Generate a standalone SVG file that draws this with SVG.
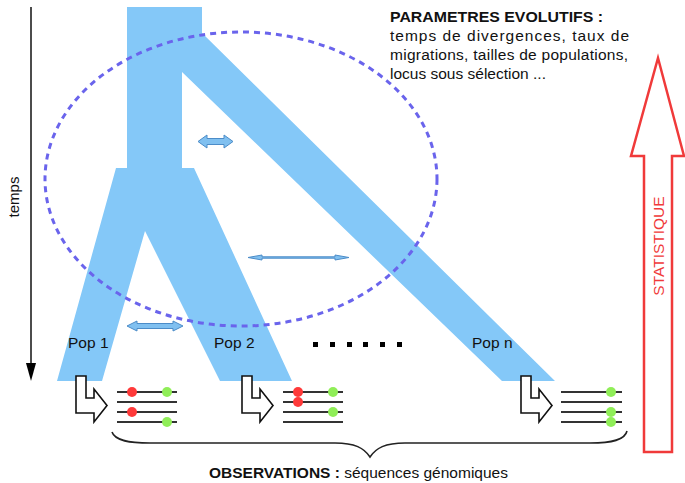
<svg xmlns="http://www.w3.org/2000/svg" width="685" height="483" viewBox="0 0 685 483">
<style>
.pop{fill:#84c8f8;stroke:none}
.dbl{fill:#80c0f0;stroke:#4c8cc8;stroke-width:1}
.t{font-family:"Liberation Sans",Arial,sans-serif;fill:#111}
.seq{stroke:#333;stroke-width:2}
.bent{fill:#fff;stroke:#111;stroke-width:1.6;stroke-linejoin:miter}
.red{fill:#ff3a3a}
.grn{fill:#90ee58}
</style>
<rect width="685" height="483" fill="#fff"/>

<g id="tree">
<polygon class="pop" points="127,7 202,7 202,33 555,381 502,381 182,72 182,169 127,169"/>
<polygon class="pop" points="116,168 194,168 292,381 220,381 145,231 102,381 57,381"/>
</g>

<g id="ellipse">
<ellipse cx="241" cy="179" rx="196" ry="147" fill="none" stroke="#6a64ec" stroke-width="3" stroke-dasharray="6,5"/>
</g>

<g id="migrations">
<path class="dbl" d="M198,141.5 L207,135 L207,138.5 L224,138.5 L224,135 L233,141.5 L224,148 L224,144.5 L207,144.5 L207,148 Z"/>
<path class="dbl" d="M248,257.5 L262,255 L262,256.8 L335,256.8 L335,255 L349,257.5 L335,260 L335,258.2 L262,258.2 L262,260 Z"/>
<path class="dbl" d="M127,326 L137,321 L137,323.5 L173,323.5 L173,321 L183,326 L173,331 L173,328.5 L137,328.5 L137,331 Z"/>
</g>

<g id="time-axis">
<line x1="31" y1="7" x2="31" y2="365" stroke="#111" stroke-width="1.5"/>
<polygon points="26,363 36,363 31,381" fill="#000"/>
<text class="t" font-size="15" transform="translate(19,197) rotate(-90)" text-anchor="middle">temps</text>
</g>

<g id="labels">
<text class="t" x="68" y="348" font-size="15.5">Pop 1</text>
<text class="t" x="214" y="348" font-size="15.5">Pop 2</text>
<text class="t" x="472" y="348" font-size="15.5">Pop n</text>
<g fill="#000">
<rect x="313" y="342" width="5" height="5"/>
<rect x="330" y="342" width="5" height="5"/>
<rect x="347" y="342" width="5" height="5"/>
<rect x="363" y="342" width="5" height="5"/>
<rect x="380" y="342" width="5" height="5"/>
<rect x="397" y="342" width="5" height="5"/>
</g>
</g>

<g id="params">
<text class="t" x="390" y="22" font-size="15.5" font-weight="bold" textLength="213" lengthAdjust="spacingAndGlyphs">PARAMETRES EVOLUTIFS :</text>
<text class="t" x="390" y="41" font-size="15.5" textLength="239" lengthAdjust="spacing">temps de divergences, taux de</text>
<text class="t" x="390" y="60" font-size="15.5" textLength="238" lengthAdjust="spacing">migrations, tailles de populations,</text>
<text class="t" x="390" y="79" font-size="15.5">locus sous sélection ...</text>
</g>

<g id="obs1">
<path class="bent" d="M76,376 L86,376 L86,398 L94,398 L94,389 L107,405.5 L94,422 L94,413 L76,413 Z"/>
<line class="seq" x1="117" y1="392" x2="177" y2="392"/>
<line class="seq" x1="117" y1="402" x2="177" y2="402"/>
<line class="seq" x1="117" y1="412" x2="177" y2="412"/>
<line class="seq" x1="117" y1="422" x2="177" y2="422"/>
<circle class="red" cx="132" cy="392" r="5"/>
<circle class="red" cx="132" cy="412" r="5"/>
<circle class="grn" cx="167" cy="392" r="5"/>
<circle class="grn" cx="167" cy="422" r="5"/>
</g>

<g id="obs2">
<path class="bent" d="M242,376 L252,376 L252,398 L260,398 L260,389 L273,405.5 L260,422 L260,413 L242,413 Z"/>
<line class="seq" x1="283" y1="392" x2="343" y2="392"/>
<line class="seq" x1="283" y1="402" x2="343" y2="402"/>
<line class="seq" x1="283" y1="412" x2="343" y2="412"/>
<line class="seq" x1="283" y1="422" x2="343" y2="422"/>
<circle class="red" cx="298" cy="392" r="5"/>
<circle class="red" cx="298" cy="402" r="5"/>
<circle class="grn" cx="333" cy="392" r="5"/>
<circle class="grn" cx="333" cy="412" r="5"/>
</g>

<g id="obsn">
<path class="bent" d="M521,376 L531,376 L531,398 L539,398 L539,389 L552,405.5 L539,422 L539,413 L521,413 Z"/>
<line class="seq" x1="561" y1="392" x2="622" y2="392"/>
<line class="seq" x1="561" y1="402" x2="622" y2="402"/>
<line class="seq" x1="561" y1="412" x2="622" y2="412"/>
<line class="seq" x1="561" y1="422" x2="622" y2="422"/>
<circle class="grn" cx="611" cy="392" r="5"/>
<circle class="grn" cx="611" cy="412" r="5"/>
<circle class="grn" cx="611" cy="422" r="5"/>
</g>

<g id="brace">
<path d="M112,432 C115,441 130,443 150,443 L335,443 C355,443 364,448 370,457 C376,448 385,443 405,443 L590,443 C612,443 625,440 627,431" fill="none" stroke="#222" stroke-width="1.6"/>
<text class="t" x="209" y="478" font-size="15.5"><tspan font-weight="bold">OBSERVATIONS :</tspan> séquences génomiques</text>
</g>

<g id="statistique">
<path d="M658,58 L684,156 L672,156 L672,452 L644,452 L644,156 L631,156 Z" fill="#fff" stroke="#f03a3a" stroke-width="2.5" stroke-linejoin="miter"/>
<text x="664" y="246" font-size="15.5" font-family="'Liberation Sans',Arial,sans-serif" fill="#f03a3a" text-anchor="middle" transform="rotate(-90 664 246)">STATISTIQUE</text>
</g>
</svg>
